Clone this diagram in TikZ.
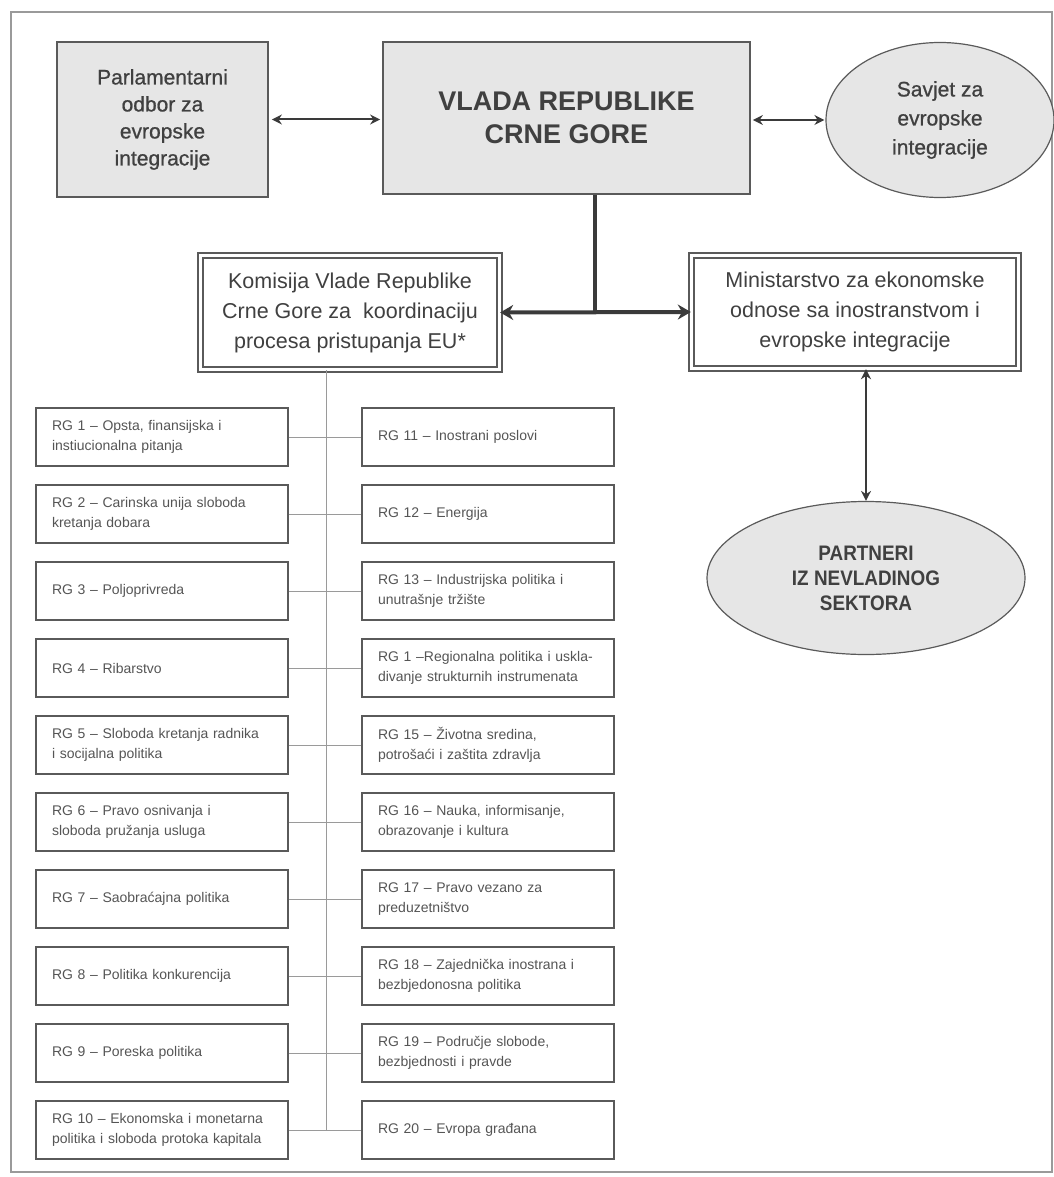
\documentclass[tikz,border=0pt]{standalone}
\usepackage{fontspec}
\setmainfont{Liberation Sans}
\usetikzlibrary{arrows.meta,shapes.geometric}
\definecolor{boxfill}{HTML}{E6E6E6}
\definecolor{ink}{HTML}{404040}
\definecolor{rgink}{HTML}{555555}
\definecolor{edgec}{HTML}{5A5A5A}
\definecolor{thinc}{HTML}{9A9A9A}
\definecolor{darkc}{HTML}{3A3A3A}
\begin{document}
\begin{tikzpicture}[x=1pt,y=-1pt,
  topbox/.style={draw=edgec, line width=1.8pt, fill=boxfill, inner sep=0pt, align=center, text=ink, font=\fontsize{21pt}{27pt}\selectfont\addfontfeature{FakeBold=0.8}},
  topell/.style={ellipse, draw=edgec, line width=1.2pt, fill=boxfill, inner sep=0pt, align=center, text=ink},
  dblbox/.style={draw=edgec, line width=1.4pt, double=white, double distance=3.6pt, fill=white, inner sep=0pt, align=center, text=ink, font=\fontsize{21.5pt}{30pt}\selectfont},
  rgbox/.style={draw=edgec, line width=1.3pt, fill=white, text width=220pt, inner xsep=16pt, inner ysep=0pt, minimum height=58pt, align=left, text=rgink, font=\fontsize{14pt}{20pt}\selectfont},
  linkarrow/.style={draw=darkc, line width=2pt, {Stealth[length=10pt,width=10pt]}-{Stealth[length=10pt,width=10pt]}},
  bigarrow/.style={draw=darkc, line width=4pt, {Stealth[length=13pt,width=15pt]}-{Stealth[length=13pt,width=15pt]}},
  thinline/.style={draw=thinc, line width=1pt}
]
\useasboundingbox (0,0) rectangle (1053,1177);
\draw[thinc, line width=1.2pt] (11,12) rectangle (1052,1172);

% top row
\node[topbox, minimum width=211pt, minimum height=155pt] (parl) at (162.5,119.5)
  {Parlamentarni\\odbor za\\evropske\\integracije};
\node[topbox, minimum width=367pt, minimum height=152pt, font=\fontsize{27pt}{33pt}\selectfont\bfseries] (vlada) at (566.5,118)
  {VLADA REPUBLIKE\\CRNE GORE};
\node[topell, minimum width=228pt, minimum height=155pt, font=\fontsize{21pt}{29pt}\selectfont\addfontfeature{FakeBold=0.8}] (savjet) at (940,120)
  {Savjet za\\evropske\\integracije};

% second row
\node[dblbox, minimum width=299pt, minimum height=114pt] (kom) at (350,312.5)
  {Komisija Vlade Republike\\Crne Gore za\ \ koordinaciju\\procesa pristupanja EU*};
\node[dblbox, minimum width=327pt, minimum height=113pt] (min) at (855,312)
  {Ministarstvo za ekonomske\\odnose sa inostranstvom i\\evropske integracije};

\node[topell, minimum width=318pt, minimum height=153pt, font=\fontsize{21pt}{25pt}\selectfont\bfseries\addfontfeature{FakeStretch=0.9}] (part) at (866,578)
  {PARTNERI\\IZ NEVLADINOG\\SEKTORA};

% connectors top
\draw[linkarrow, shorten <=3pt, shorten >=2pt] (parl.east) -- (parl.east -| vlada.west);
\draw[linkarrow, shorten <=2pt, shorten >=1pt] (vlada.east |- savjet.west) -- (savjet.west);
\coordinate (tj) at (595,312);
\draw[darkc, line width=4pt] (vlada.south -| tj) -- (tj);
\draw[bigarrow] (kom.east) -- (min.west);
\draw[linkarrow] (min.south -| part.north) -- (part.north);

% RG boxes
\node[rgbox] (L1) at (162,437) {RG 1 – Opsta, finansijska i\\instiucionalna pitanja};
\node[rgbox] (L2) at (162,514) {RG 2 – Carinska unija sloboda\\kretanja dobara};
\node[rgbox] (L3) at (162,591) {RG 3 – Poljoprivreda};
\node[rgbox] (L4) at (162,668) {RG 4 – Ribarstvo};
\node[rgbox] (L5) at (162,745) {RG 5 – Sloboda kretanja radnika\\i socijalna politika};
\node[rgbox] (L6) at (162,822) {RG 6 – Pravo osnivanja i\\sloboda pružanja usluga};
\node[rgbox] (L7) at (162,899) {RG 7 – Saobraćajna politika};
\node[rgbox] (L8) at (162,976) {RG 8 – Politika konkurencija};
\node[rgbox] (L9) at (162,1053) {RG 9 – Poreska politika};
\node[rgbox] (L10) at (162,1130) {RG 10 – Ekonomska i monetarna\\politika i sloboda protoka kapitala};

\node[rgbox] (R1) at (488,437) {RG 11 – Inostrani poslovi};
\node[rgbox] (R2) at (488,514) {RG 12 – Energija};
\node[rgbox] (R3) at (488,591) {RG 13 – Industrijska politika i\\unutrašnje tržište};
\node[rgbox] (R4) at (488,668) {RG 1 –Regionalna politika i uskla-\\divanje strukturnih instrumenata};
\node[rgbox] (R5) at (488,745) {RG 15 – Životna sredina,\\potrošaći i zaštita zdravlja};
\node[rgbox] (R6) at (488,822) {RG 16 – Nauka, informisanje,\\obrazovanje i kultura};
\node[rgbox] (R7) at (488,899) {RG 17 – Pravo vezano za\\preduzetništvo};
\node[rgbox] (R8) at (488,976) {RG 18 – Zajednička inostrana i\\bezbjedonosna politika};
\node[rgbox] (R9) at (488,1053) {RG 19 – Područje slobode,\\bezbjednosti i pravde};
\node[rgbox] (R10) at (488,1130) {RG 20 – Evropa građana};

\coordinate (tx) at (326,0);
\draw[thinline] (kom.south -| tx) -- (L10.east -| tx);
\foreach \i in {1,...,10} {
  \draw[thinline] (L\i.east) -- (R\i.west);
}
\end{tikzpicture}
\end{document}
